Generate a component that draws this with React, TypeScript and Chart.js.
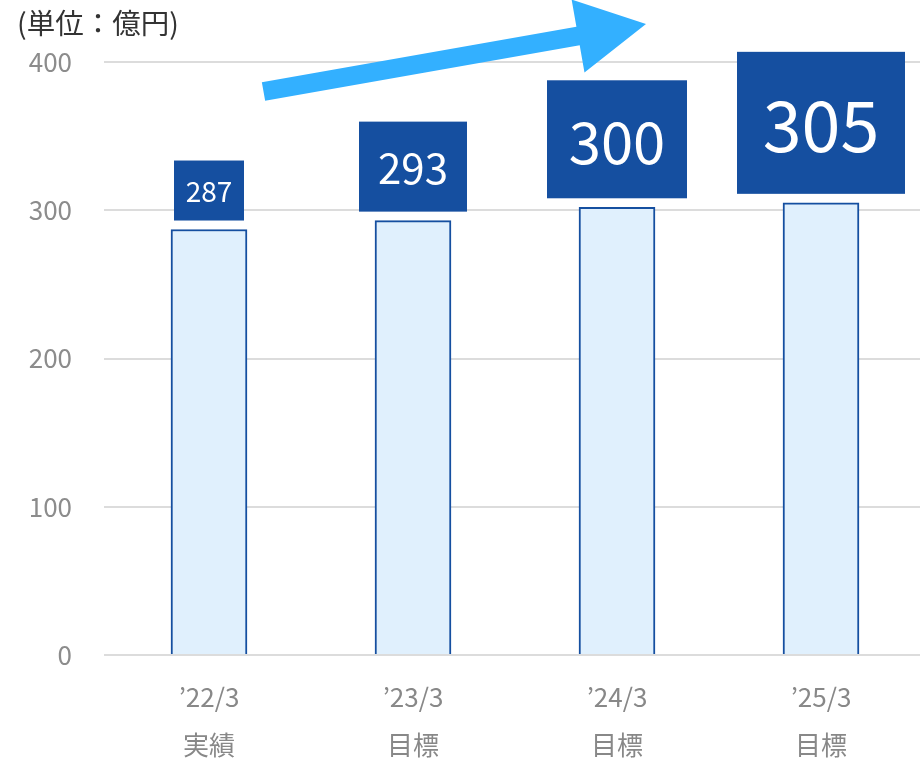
import React, { useEffect, useRef } from "react";
import { Chart, registerables } from "chart.js";

Chart.register(...registerables);

const categories: string[][] = [
  ["’22/3", "実績"],
  ["’23/3", "目標"],
  ["’24/3", "目標"],
  ["’25/3", "目標"],
];
// bar heights as drawn in the picture
const values: number[] = [287, 293, 302, 305];
// value labels printed in the boxes
const valueLabels: string[] = ["287", "293", "300", "305"];
const yTicks: number[] = [0, 100, 200, 300, 400];
const unitLabel = "(単位：億円)";

// label box styles (width, height, font size) per bar
const boxW = [70, 108, 140, 168];
const boxH = [60, 90, 118, 142];
const boxFont = [28, 42, 58, 70];

const FONT = "'Noto Sans CJK JP', 'Noto Sans', sans-serif";
const DARK = "#154fa0";

const decorPlugin = {
  id: "decor",
  afterDatasetsDraw(chart: any) {
    const ctx = chart.ctx;
    const meta = chart.getDatasetMeta(0);
    ctx.save();
    // value boxes
    meta.data.forEach((bar: any, i: number) => {
      const w = boxW[i];
      const h = boxH[i];
      const bottom = bar.y - 9;
      ctx.fillStyle = DARK;
      ctx.fillRect(bar.x - w / 2, bottom - h, w, h);
      ctx.fillStyle = "#ffffff";
      ctx.font = `${boxFont[i]}px ${FONT}`;
      ctx.textAlign = "center";
      ctx.textBaseline = "middle";
      ctx.fillText(valueLabels[i], bar.x, bottom - h / 2 + boxFont[i] * 0.04);
    });
    // arrow
    const sx = 263.5, sy = 91.5, tx = 646, ty = 24;
    const ang = Math.atan2(ty - sy, tx - sx);
    const L = Math.hypot(tx - sx, ty - sy);
    const hl = 69, hw = 37, sw = 9.5;
    ctx.translate(sx, sy);
    ctx.rotate(ang);
    ctx.beginPath();
    ctx.moveTo(0, -sw);
    ctx.lineTo(L - hl, -sw);
    ctx.lineTo(L - hl, -hw);
    ctx.lineTo(L, 0);
    ctx.lineTo(L - hl, hw);
    ctx.lineTo(L - hl, sw);
    ctx.lineTo(0, sw);
    ctx.closePath();
    ctx.fillStyle = "#33b0ff";
    ctx.fill();
    ctx.restore();
    // unit label
    ctx.save();
    ctx.fillStyle = "#333333";
    ctx.font = `28.5px ${FONT}`;
    ctx.textAlign = "left";
    ctx.textBaseline = "middle";
    ctx.fillText(unitLabel, 17, 23);
    ctx.restore();
  },
};

export default function App() {
  const ref = useRef<HTMLCanvasElement | null>(null);
  useEffect(() => {
    if (!ref.current) return;
    const chart = new Chart(ref.current, {
      type: "bar",
      data: {
        labels: categories,
        datasets: [
          {
            data: values,
            backgroundColor: "#e0f0fd",
            borderColor: DARK,
            borderWidth: 2,
            barThickness: 76,
          },
        ],
      },
      options: {
        responsive: false,
        animation: false,
        devicePixelRatio: 1,
        layout: { padding: { top: 62, left: 0, right: 0, bottom: 0 } },
        plugins: {
          legend: { display: false },
          tooltip: { enabled: false },
        },
        scales: {
          x: {
            grid: { display: false, drawTicks: false },
            border: { display: false },
            ticks: {
              color: "#888888",
              font: { family: FONT, size: 26, lineHeight: 1.85 },
              padding: 18,
              maxRotation: 0,
            },
            afterFit(scale: any) {
              scale.height = 103;
            },
          },
          y: {
            min: 0,
            max: 400,
            afterBuildTicks(scale: any) {
              scale.ticks = yTicks.map((v) => ({ value: v }));
            },
            grid: { color: "#dcdcdc", lineWidth: 2, tickLength: 3 },
            border: { display: false },
            ticks: {
              color: "#8c8c8c",
              font: { family: FONT, size: 26 },
              padding: 32,
            },
            afterFit(scale: any) {
              scale.width = 107;
            },
          },
        },
      },
      plugins: [decorPlugin],
    });
    return () => chart.destroy();
  }, []);
  return (
    <div style={{ position: "absolute", left: 0, top: 0, width: 920, height: 758, overflow: "hidden", background: "#fff" }}>
      <canvas ref={ref} width={923} height={758} style={{ width: 923, height: 758, display: "block" }} />
    </div>
  );
}
